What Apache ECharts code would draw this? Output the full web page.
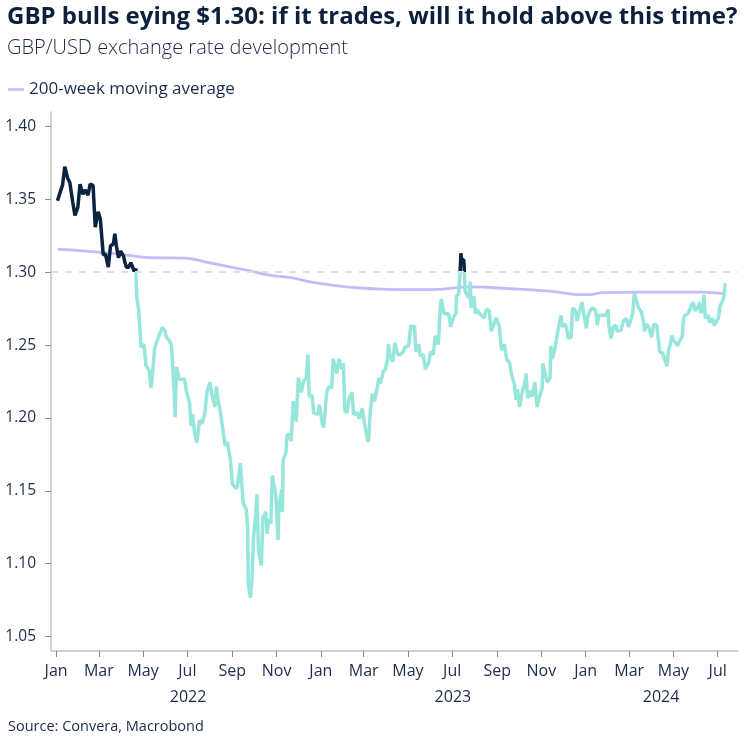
<!DOCTYPE html>
<html>
<head>
<meta charset="utf-8">
<script src="https://cdn.jsdelivr.net/npm/echarts@6/dist/echarts.min.js"></script>
<style>
html,body{margin:0;padding:0;background:#fff;}
#chart{width:745px;height:748px;}
</style>
</head>
<body>
<div id="chart"></div>
<script>
// ---------- data ----------
const priceDates = [
'2022-01-03','2022-01-06','2022-01-10','2022-01-13','2022-01-17','2022-01-20','2022-01-24','2022-01-27','2022-01-31',
'2022-02-03','2022-02-07','2022-02-10','2022-02-14','2022-02-17','2022-02-21','2022-02-24','2022-02-28',
'2022-03-03','2022-03-07','2022-03-10','2022-03-14','2022-03-17','2022-03-21','2022-03-23','2022-03-25','2022-03-28','2022-03-31',
'2022-04-04','2022-04-06','2022-04-08','2022-04-11','2022-04-14','2022-04-19','2022-04-21','2022-04-22','2022-04-25','2022-04-27','2022-04-28',
'2022-05-02','2022-05-05','2022-05-09','2022-05-12','2022-05-13','2022-05-17','2022-05-19','2022-05-23','2022-05-26','2022-05-27','2022-05-31',
'2022-06-02','2022-06-06','2022-06-09','2022-06-13','2022-06-14','2022-06-16','2022-06-20','2022-06-23','2022-06-27','2022-06-30',
'2022-07-04','2022-07-06','2022-07-08','2022-07-11','2022-07-14','2022-07-18','2022-07-21','2022-07-25','2022-07-28',
'2022-08-01','2022-08-04','2022-08-08','2022-08-10','2022-08-12','2022-08-15','2022-08-18','2022-08-22','2022-08-25','2022-08-29',
'2022-09-01','2022-09-06','2022-09-08','2022-09-12','2022-09-15','2022-09-16','2022-09-20','2022-09-22','2022-09-23','2022-09-26','2022-09-28','2022-09-30',
'2022-10-03','2022-10-05','2022-10-07','2022-10-11','2022-10-13','2022-10-17','2022-10-19','2022-10-21','2022-10-24','2022-10-26','2022-10-28','2022-10-31',
'2022-11-03','2022-11-04','2022-11-08','2022-11-09','2022-11-10','2022-11-14','2022-11-15','2022-11-17','2022-11-21','2022-11-24','2022-11-28',
'2022-12-01','2022-12-05','2022-12-08','2022-12-12','2022-12-14','2022-12-16','2022-12-20','2022-12-22','2022-12-28','2022-12-30',
'2023-01-03','2023-01-05','2023-01-09','2023-01-12','2023-01-16','2023-01-18','2023-01-20','2023-01-23','2023-01-26','2023-01-30',
'2023-02-01','2023-02-02','2023-02-03','2023-02-06','2023-02-09','2023-02-13','2023-02-15','2023-02-17','2023-02-20','2023-02-23','2023-02-27',
'2023-03-02','2023-03-07','2023-03-08','2023-03-10','2023-03-13','2023-03-16','2023-03-20','2023-03-22','2023-03-24','2023-03-28','2023-03-31',
'2023-04-03','2023-04-04','2023-04-06','2023-04-10','2023-04-13','2023-04-17','2023-04-20','2023-04-24','2023-04-27',
'2023-05-02','2023-05-05','2023-05-08','2023-05-10','2023-05-12','2023-05-16','2023-05-18','2023-05-22','2023-05-25','2023-05-30',
'2023-06-01','2023-06-05','2023-06-08','2023-06-12','2023-06-15','2023-06-16','2023-06-20','2023-06-22','2023-06-26','2023-06-29',
'2023-07-03','2023-07-06','2023-07-07','2023-07-10','2023-07-11','2023-07-12','2023-07-13','2023-07-14','2023-07-17','2023-07-19','2023-07-21','2023-07-24','2023-07-26','2023-07-27','2023-07-31',
'2023-08-02','2023-08-04','2023-08-08','2023-08-10','2023-08-14','2023-08-17','2023-08-21','2023-08-24','2023-08-29','2023-08-31',
'2023-09-04','2023-09-07','2023-09-11','2023-09-14','2023-09-18','2023-09-21','2023-09-25','2023-09-27','2023-09-29',
'2023-10-02','2023-10-05','2023-10-10','2023-10-11','2023-10-13','2023-10-17','2023-10-19','2023-10-23','2023-10-26','2023-10-30',
'2023-11-02','2023-11-03','2023-11-07','2023-11-09','2023-11-13','2023-11-14','2023-11-16','2023-11-20','2023-11-22','2023-11-24','2023-11-28','2023-11-30',
'2023-12-04','2023-12-07','2023-12-08','2023-12-12','2023-12-14','2023-12-18','2023-12-20','2023-12-22','2023-12-27','2023-12-29',
'2024-01-02','2024-01-04','2024-01-08','2024-01-11','2024-01-15','2024-01-17','2024-01-19','2024-01-23','2024-01-25','2024-01-29',
'2024-02-01','2024-02-02','2024-02-05','2024-02-08','2024-02-12','2024-02-13','2024-02-15','2024-02-19','2024-02-22','2024-02-26','2024-02-29',
'2024-03-04','2024-03-06','2024-03-08','2024-03-11','2024-03-14','2024-03-18','2024-03-20','2024-03-21','2024-03-22','2024-03-25','2024-03-28',
'2024-04-01','2024-04-04','2024-04-08','2024-04-10','2024-04-12','2024-04-16','2024-04-18','2024-04-22','2024-04-24','2024-04-26','2024-04-29',
'2024-05-01','2024-05-03','2024-05-07','2024-05-09','2024-05-13','2024-05-15','2024-05-17','2024-05-21','2024-05-23','2024-05-28','2024-05-31',
'2024-06-04','2024-06-06','2024-06-07','2024-06-11','2024-06-12','2024-06-14','2024-06-18','2024-06-20','2024-06-24','2024-06-26','2024-06-28',
'2024-07-02','2024-07-04','2024-07-08','2024-07-10','2024-07-11','2024-07-12'
];
const priceValues = [
1.349,1.354,1.360,1.3725,1.3645,1.3615,1.348,1.339,1.3445,
1.3605,1.3535,1.3565,1.353,1.3605,1.3595,1.331,1.3415,
1.3365,1.312,1.3125,1.3035,1.318,1.3195,1.3265,1.3185,1.310,1.3145,
1.311,1.3065,1.3035,1.3035,1.3065,1.3005,1.3025,1.2835,1.2735,1.2575,1.2485,
1.2505,1.236,1.233,1.2205,1.2255,1.2485,1.2485,1.2565,1.2605,1.262,1.260,
1.2555,1.253,1.2505,1.2165,1.2005,1.235,1.2265,1.2265,1.2265,1.2175,
1.2105,1.1945,1.2025,1.1895,1.183,1.1985,1.196,1.203,1.2175,
1.2245,1.216,1.2075,1.2215,1.2135,1.2055,1.1955,1.181,1.1835,1.1725,
1.1545,1.1515,1.153,1.169,1.1475,1.1415,1.1375,1.1255,1.0855,1.0765,1.089,1.1165,
1.133,1.1475,1.1085,1.0985,1.1315,1.1355,1.1205,1.1305,1.1275,1.1605,1.161,1.1465,
1.116,1.1375,1.151,1.1355,1.171,1.1765,1.1865,1.1895,1.184,1.2115,1.1975,
1.2275,1.2175,1.225,1.2275,1.2435,1.2145,1.2155,1.2035,1.2025,1.209,
1.196,1.1935,1.2175,1.2215,1.2205,1.2405,1.2395,1.2305,1.2405,1.2335,
1.2375,1.2225,1.205,1.2035,1.2135,1.2175,1.2025,1.2035,1.2035,1.1995,1.2065,
1.1965,1.1835,1.186,1.2035,1.2165,1.2115,1.2215,1.2275,1.2235,1.232,1.2335,
1.2405,1.2505,1.2435,1.2385,1.2515,1.2435,1.2435,1.245,1.2485,
1.2495,1.2635,1.2615,1.2635,1.2455,1.2505,1.2425,1.2435,1.2335,1.2385,
1.2455,1.2435,1.2565,1.2505,1.2785,1.2815,1.2715,1.2715,1.2715,1.2625,
1.2695,1.2715,1.2835,1.2855,1.2935,1.3005,1.313,1.3085,1.3085,1.2865,1.2855,1.2825,1.2935,1.2755,1.2835,
1.2715,1.2745,1.2715,1.2705,1.2685,1.2745,1.2735,1.2595,1.2665,1.2685,
1.2625,1.2465,1.2505,1.2405,1.238,1.2295,1.2225,1.2125,1.2195,
1.2075,1.2165,1.2265,1.2305,1.2135,1.2185,1.2145,1.2245,1.2075,1.2155,
1.2205,1.2375,1.2285,1.2245,1.2275,1.2495,1.2405,1.2485,1.2485,1.2605,1.2705,1.2625,
1.2645,1.2585,1.2545,1.2555,1.2755,1.2735,1.2665,1.2705,1.2795,1.2725,
1.2615,1.2695,1.2745,1.2755,1.2735,1.2635,1.2705,1.2705,1.2705,1.2705,
1.2745,1.2635,1.2545,1.2625,1.2635,1.2595,1.2595,1.2605,1.2665,1.2685,1.2625,
1.2685,1.2725,1.2855,1.2805,1.2755,1.2725,1.2735,1.2655,1.2595,1.2645,1.2625,
1.2555,1.2645,1.2635,1.2545,1.2455,1.2445,1.2445,1.2355,1.2455,1.2495,1.2565,
1.2535,1.2545,1.2495,1.2525,1.2555,1.2685,1.2705,1.2715,1.2715,1.2795,1.2735,
1.2765,1.2795,1.2725,1.2735,1.2845,1.2685,1.2705,1.2655,1.2685,1.2635,1.2645,
1.2685,1.2765,1.2805,1.2845,1.2915,1.2925
];
const maDates = ['2022-01-03','2022-03-07','2022-04-17','2022-05-10','2022-06-27','2022-08-01','2022-08-28','2022-09-25','2022-10-22','2022-11-19','2022-12-21','2023-02-05','2023-03-19','2023-04-29','2023-05-31','2023-07-28','2023-09-08','2023-11-16','2023-12-23','2024-01-06','2024-01-25','2024-03-12','2024-04-28','2024-06-06','2024-07-12'];
const maValues = [1.3158,1.3135,1.3112,1.3100,1.3097,1.3064,1.3037,1.3010,1.2980,1.2964,1.2930,1.2900,1.2886,1.2880,1.2880,1.2900,1.2890,1.2868,1.2846,1.2846,1.2860,1.2863,1.2863,1.2863,1.2852];
const yTicks = [1.05,1.10,1.15,1.20,1.25,1.30,1.35,1.40];
const monthTicks = ['2022-01-01','2022-03-01','2022-05-01','2022-07-01','2022-09-01','2022-11-01','2023-01-01','2023-03-01','2023-05-01','2023-07-01','2023-09-01','2023-11-01','2024-01-01','2024-03-01','2024-05-01','2024-07-01'];
const monthNames = ['Jan','Feb','Mar','Apr','May','Jun','Jul','Aug','Sep','Oct','Nov','Dec'];
const yearLabelDates = ['2022-07-02','2023-07-02','2024-04-14'];
const yearLabels = ['2022','2023','2024'];
const threshold = 1.30;

// ---------- helpers ----------
function ts(s){ const p = s.split('-'); return new Date(+p[0], +p[1]-1, +p[2]).getTime(); }
const priceData = priceDates.map((d,i)=>[ts(d), priceValues[i]]);
const maData = maDates.map((d,i)=>[ts(d), maValues[i]]);
const xMin = ts('2021-12-25'), xMax = ts('2024-07-29');
const monthTickTs = monthTicks.map(ts);
const yearTickTs = yearLabelDates.map(ts);
const font = 'Open Sans';
const labelColor = '#1c2c4c';

const chart = echarts.init(document.getElementById('chart'), null, {renderer:'canvas'});
chart.setOption({
  backgroundColor:'#fff',
  animation:false,
  title:[
    {text:'GBP bulls eying $1.30: if it trades, will it hold above this time?', left:7, top:5, padding:0,
     textStyle:{fontFamily:font, fontWeight:'bold', fontSize:24, color:'#0c1f3b'}},
    {text:'GBP/USD exchange rate development', left:7, top:38, padding:0,
     textStyle:{fontFamily:font, fontWeight:300, fontSize:20, color:'#1a2a45'}},
    {text:'Source: Convera, Macrobond', left:8, top:719, padding:0,
     textStyle:{fontFamily:font, fontWeight:'normal', fontSize:14.5, color:'#1a2a45'}}
  ],
  legend:{
    left:8, top:81, padding:0, data:['200-week moving average'], icon:'rect', itemWidth:16, itemHeight:2.5,
    itemGap:6, textStyle:{fontFamily:font, fontSize:17, color:labelColor}, selectedMode:false
  },
  visualMap:{
    type:'piecewise', show:false, seriesIndex:1, dimension:1,
    pieces:[{gte:threshold, lte:2, color:'#0b2340'},{gte:0, lt:threshold, color:'#97e6dc'}]
  },
  grid:{left:51, right:7, top:112, bottom:97, containLabel:false, outerBoundsMode:'none'},
  xAxis:[
    {type:'value', min:xMin, max:xMax, position:'bottom', scale:true,
     axisLine:{show:true, lineStyle:{color:'#c4c4c4', width:1.5}},
     axisTick:{show:true, length:6, lineStyle:{color:'#8a8a8a'}, customValues: monthTickTs},
     axisLabel:{margin:12, fontFamily:font, fontSize:16, color:labelColor, hideOverlap:false,
       customValues: monthTickTs,
       formatter:(v)=>monthNames[new Date(v).getMonth()]},
     splitLine:{show:false}},
    {type:'value', min:xMin, max:xMax, position:'bottom', offset:26, scale:true,
     axisLine:{show:false}, axisTick:{show:false}, splitLine:{show:false},
     axisLabel:{margin:12, fontFamily:font, fontSize:16, color:labelColor, hideOverlap:false,
       customValues: yearTickTs,
       formatter:(v)=>{ const i = yearTickTs.indexOf(v); return i >= 0 ? yearLabels[i] : ''; }}}
  ],
  yAxis:{
    type:'value', min:1.04, max:1.41,
    axisLine:{show:true, lineStyle:{color:'#c4c4c4', width:1.5}},
    axisTick:{show:true, length:6, lineStyle:{color:'#8a8a8a'}, customValues:yTicks},
    axisLabel:{margin:15, fontFamily:font, fontSize:15.5, color:labelColor, customValues:yTicks,
      formatter:(v)=>v.toFixed(2)},
    splitLine:{show:false}
  },
  series:[
    {name:'200-week moving average', type:'line', data:maData, showSymbol:false, symbol:'none', smooth:true,
     lineStyle:{color:'#c6bbf6', width:2.8}, itemStyle:{color:'#c6bbf6'},
     markLine:{silent:true, symbol:['none','none'], label:{show:false},
       lineStyle:{color:'#dedede', type:[7,7], width:2},
       data:[{yAxis:threshold}]}},
    {name:'GBP/USD', type:'line', data:priceData, showSymbol:false, symbol:'none',
     lineStyle:{width:3.5}}
  ]
});
</script>
</body>
</html>
